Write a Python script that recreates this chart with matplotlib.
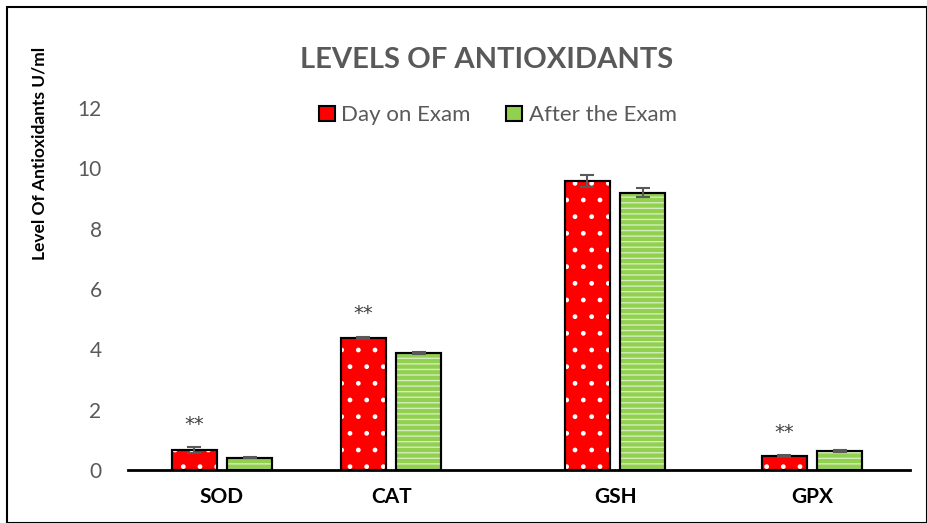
import matplotlib.pyplot as plt
import matplotlib.patches as mpatches
import numpy as np

plt.rcParams['font.family'] = ['Lato', 'DejaVu Sans']

categories = ["SOD", "CAT", "GSH", "GPX"]
day_on_exam = [0.66, 4.37, 9.58, 0.47]
day_err = [0.10, 0.04, 0.20, 0.03]
after_exam = [0.41, 3.88, 9.20, 0.63]
after_err = [0.02, 0.03, 0.15, 0.03]
stars = ["**", "**", "", "**"]

# group centres are not evenly spaced in the original
group_pos = np.array([0.0, 1.0, 2.325, 3.49])
width = 0.266
off = 0.164

red = "#FF0000"
green = "#92D050"
grey = "#595959"

fig = plt.figure(figsize=(9.27, 5.23), dpi=100)
ax = fig.add_axes([0.138, 0.101, 0.844, 0.6925])

x1 = group_pos - off
x2 = group_pos + off

ax.bar(x1, day_on_exam, width, color=red, edgecolor="black", linewidth=1.5, zorder=2)
ax.bar(x1, day_on_exam, width, color="none", edgecolor="white", hatch=".", linewidth=0, zorder=3)
ax.bar(x2, after_exam, width, color=green, edgecolor="black", linewidth=1.5, zorder=2)
ax.bar(x2, after_exam, width, color="none", edgecolor="#D3EDBD", hatch="---", linewidth=0, zorder=3)
# redraw outlines on top of hatching
ax.bar(x1, day_on_exam, width, color="none", edgecolor="black", linewidth=1.5, zorder=4)
ax.bar(x2, after_exam, width, color="none", edgecolor="black", linewidth=1.5, zorder=4)

ax.errorbar(x1, day_on_exam, yerr=day_err, fmt="none", ecolor=grey, elinewidth=1.5, capsize=5, capthick=1.5, zorder=5)
ax.errorbar(x2, after_exam, yerr=after_err, fmt="none", ecolor=grey, elinewidth=1.5, capsize=5, capthick=1.5, zorder=5)

for xi, v, e, s in zip(x1, day_on_exam, day_err, stars):
    if s:
        ax.text(xi, v + e + 0.45, s, ha="center", va="bottom", fontsize=14,
                color="#404040", family="DejaVu Sans")

ax.set_xlim(-0.556, 4.07)
ax.set_ylim(0, 12)
ax.set_yticks(range(0, 13, 2))
ax.set_xticks(group_pos)
ax.set_xticklabels(categories, fontsize=15, fontweight="bold", color="black")
ax.tick_params(axis="x", length=0, pad=12)
ax.tick_params(axis="y", length=0, labelsize=15, labelcolor=grey, pad=19)
for sp in ["top", "right", "left"]:
    ax.spines[sp].set_visible(False)
ax.spines["bottom"].set_linewidth(2)
ax.spines["bottom"].set_zorder(6)

ax.set_ylabel("Level Of Antioxidants U/ml", fontsize=12.5, fontweight="bold")
ax.yaxis.set_label_coords(-0.103, 0.875)

fig.text(0.525, 0.885, "LEVELS OF ANTIOXIDANTS", fontsize=21, fontweight="bold", color=grey, ha="center", va="center")

h1 = mpatches.Patch(facecolor=red, edgecolor="black", linewidth=1.5)
h2 = mpatches.Patch(facecolor=green, edgecolor="black", linewidth=1.5)
leg = fig.legend([h1, h2], ["Day on Exam", "After the Exam"], loc="center", bbox_to_anchor=(0.537, 0.78),
                 ncol=2, frameon=False, fontsize=16, handlelength=0.7, handleheight=0.7,
                 handletextpad=0.3, columnspacing=1.6)
for t in leg.get_texts():
    t.set_color(grey)

fig.add_artist(mpatches.Rectangle((0.008, 0.0), 0.992, 0.987, transform=fig.transFigure,
                                  fill=False, edgecolor="black", linewidth=1.5))

fig.savefig("out.png", dpi=100)
